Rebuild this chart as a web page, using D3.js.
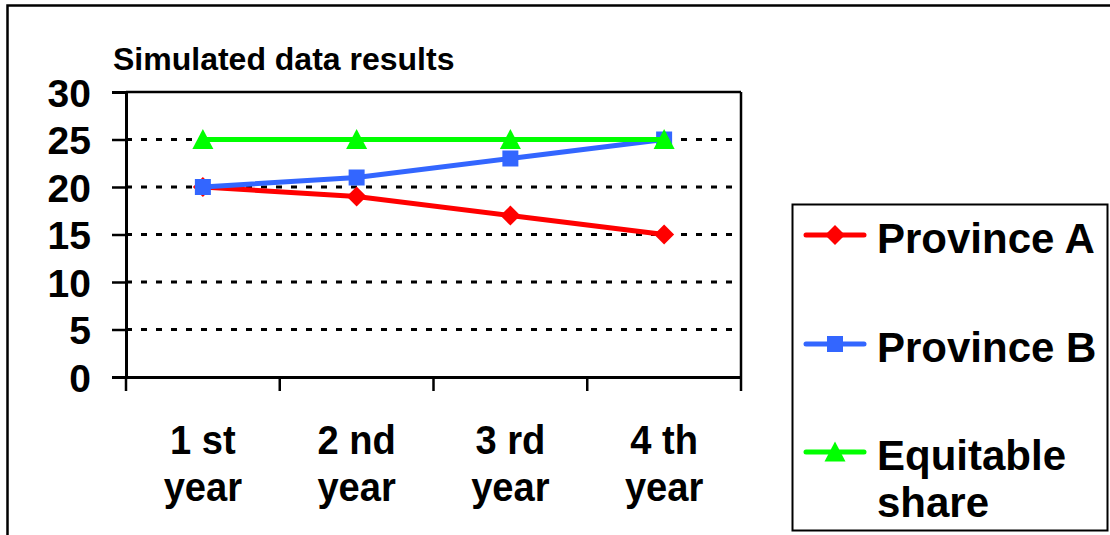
<!DOCTYPE html>
<html>
<head>
<meta charset="utf-8">
<script src="https://cdn.jsdelivr.net/npm/d3@7/dist/d3.min.js"></script>
<style>
  html, body { margin: 0; padding: 0; background: #fff; overflow: hidden; }
  svg { display: block; font-family: "Liberation Sans", Arial, Helvetica, sans-serif; font-weight: bold; }
</style>
</head>
<body>
<svg id="chart" width="1110" height="535"></svg>
<script>
// Categories and series
const years = ["1 st|year", "2 nd|year", "3 rd|year", "4 th|year"];
const provinceA = [20, 19, 17, 15];
const provinceB = [20, 21, 23, 25];
const equitableShare = [25, 25, 25, 25];
const yTicks = [0, 5, 10, 15, 20, 25, 30];
const seriesNames = ["Province A", "Province B", "Equitable|share"];

const series = [
  { name: seriesNames[0], values: provinceA, color: "#ff0000", marker: "diamond" },
  { name: seriesNames[1], values: provinceB, color: "#3366ff", marker: "square" },
  { name: seriesNames[2], values: equitableShare, color: "#00ff00", marker: "triangle" }
];

const svg = d3.select("#chart");

// Outer frame (extends past the right and bottom edges)
svg.append("rect")
  .attr("x", 7.5).attr("y", 5.5)
  .attr("width", 1200).attr("height", 600)
  .attr("fill", "none").attr("stroke", "#000").attr("stroke-width", 2.5);

const plot = { left: 126, right: 741, top: 92, bottom: 377 };

const x = d3.scaleBand().domain(years).range([plot.left, plot.right]).padding(0);
const y = d3.scaleLinear().domain([0, 30]).range([plot.bottom, plot.top]);

// Title
svg.append("text")
  .attr("x", 113).attr("y", 70)
  .attr("font-size", 32)
  .text("Simulated data results");

// Dotted gridlines
svg.append("g")
  .selectAll("line")
  .data(yTicks.filter(d => d > 0 && d < 30))
  .join("line")
  .attr("x1", plot.left).attr("x2", plot.right)
  .attr("y1", d => y(d)).attr("y2", d => y(d))
  .attr("stroke", "#000").attr("stroke-width", 3)
  .attr("stroke-dasharray", "6,9");

// Plot border top and right
svg.append("line")
  .attr("x1", plot.left).attr("x2", plot.right)
  .attr("y1", y(30)).attr("y2", y(30))
  .attr("stroke", "#000").attr("stroke-width", 2.5);
svg.append("line")
  .attr("x1", plot.right).attr("x2", plot.right)
  .attr("y1", plot.top).attr("y2", plot.bottom)
  .attr("stroke", "#000").attr("stroke-width", 2.5);

// Y axis
const yAxis = svg.append("g")
  .attr("transform", `translate(${plot.left},0)`)
  .call(d3.axisLeft(y).tickValues(yTicks).tickSize(14).tickPadding(21).tickFormat(d3.format("d")));
yAxis.select(".domain").attr("stroke", "#000").attr("stroke-width", 3);
yAxis.selectAll(".tick line").attr("stroke", "#000").attr("stroke-width", 2.5);
yAxis.selectAll(".tick text")
  .attr("font-size", 39).attr("font-family", "Liberation Sans, Arial, sans-serif")
  .attr("font-weight", "bold").attr("fill", "#000").attr("dy", "0.36em");

// X axis with ticks on band boundaries
const xAxis = svg.append("g")
  .attr("transform", `translate(0,${plot.bottom})`)
  .call(d3.axisBottom(x).tickSize(0).tickFormat(""));
xAxis.select(".domain").attr("stroke", "#000").attr("stroke-width", 3);
xAxis.selectAll(".tick").remove();

const boundaries = years.map(d => x(d)).concat([x(years[years.length - 1]) + x.bandwidth()]);
svg.append("g")
  .selectAll("line")
  .data(boundaries)
  .join("line")
  .attr("x1", d => d).attr("x2", d => d)
  .attr("y1", plot.bottom).attr("y2", plot.bottom + 14)
  .attr("stroke", "#000").attr("stroke-width", 2.5);

// Category labels (two lines, slightly condensed)
const xLabels = svg.append("g")
  .selectAll("g")
  .data(years)
  .join("g")
  .attr("transform", d => `translate(${x(d) + x.bandwidth() / 2},0) scale(0.93,1)`);
xLabels.each(function(d) {
  const lines = d.split("|");
  d3.select(this).selectAll("text")
    .data(lines)
    .join("text")
    .attr("text-anchor", "middle")
    .attr("font-size", 41)
    .attr("y", (l, i) => 454 + i * 47)
    .text(l => l);
});

// Marker shapes
function markerPath(type) {
  if (type === "diamond") return "M0,-10L10,0L0,10L-10,0Z";
  if (type === "square") return "M-8,-8L8,-8L8,8L-8,8Z";
  return "M0,-10.5L10.5,9.5L-10.5,9.5Z";
}

const line = d3.line()
  .x((v, i) => x(years[i]) + x.bandwidth() / 2)
  .y(v => y(v));

series.forEach(s => {
  const g = svg.append("g");
  g.append("path")
    .attr("d", line(s.values))
    .attr("fill", "none")
    .attr("stroke", s.color)
    .attr("stroke-width", 5);
  g.selectAll("path.mk")
    .data(s.values)
    .join("path")
    .attr("class", "mk")
    .attr("d", markerPath(s.marker))
    .attr("transform", (v, i) => `translate(${x(years[i]) + x.bandwidth() / 2},${y(v)})`)
    .attr("fill", s.color);
});

// Legend
const legend = svg.append("g");
legend.append("rect")
  .attr("x", 792.5).attr("y", 204.5)
  .attr("width", 315).attr("height", 326)
  .attr("fill", "#fff").attr("stroke", "#000").attr("stroke-width", 2);

const legendY = [235, 344, 452];
series.forEach((s, i) => {
  const ly = legendY[i];
  legend.append("line")
    .attr("x1", 806).attr("x2", 864)
    .attr("y1", ly).attr("y2", ly)
    .attr("stroke", s.color).attr("stroke-width", 5)
    .attr("stroke-linecap", "round");
  legend.append("path")
    .attr("d", markerPath(s.marker))
    .attr("transform", `translate(835,${ly})`)
    .attr("fill", s.color);
  const lines = s.name.split("|");
  legend.append("g").selectAll("text")
    .data(lines)
    .join("text")
    .attr("x", 877)
    .attr("y", (l, j) => ly + 18 + j * 47)
    .attr("font-size", 42)
    .text(l => l);
});
</script>
</body>
</html>
